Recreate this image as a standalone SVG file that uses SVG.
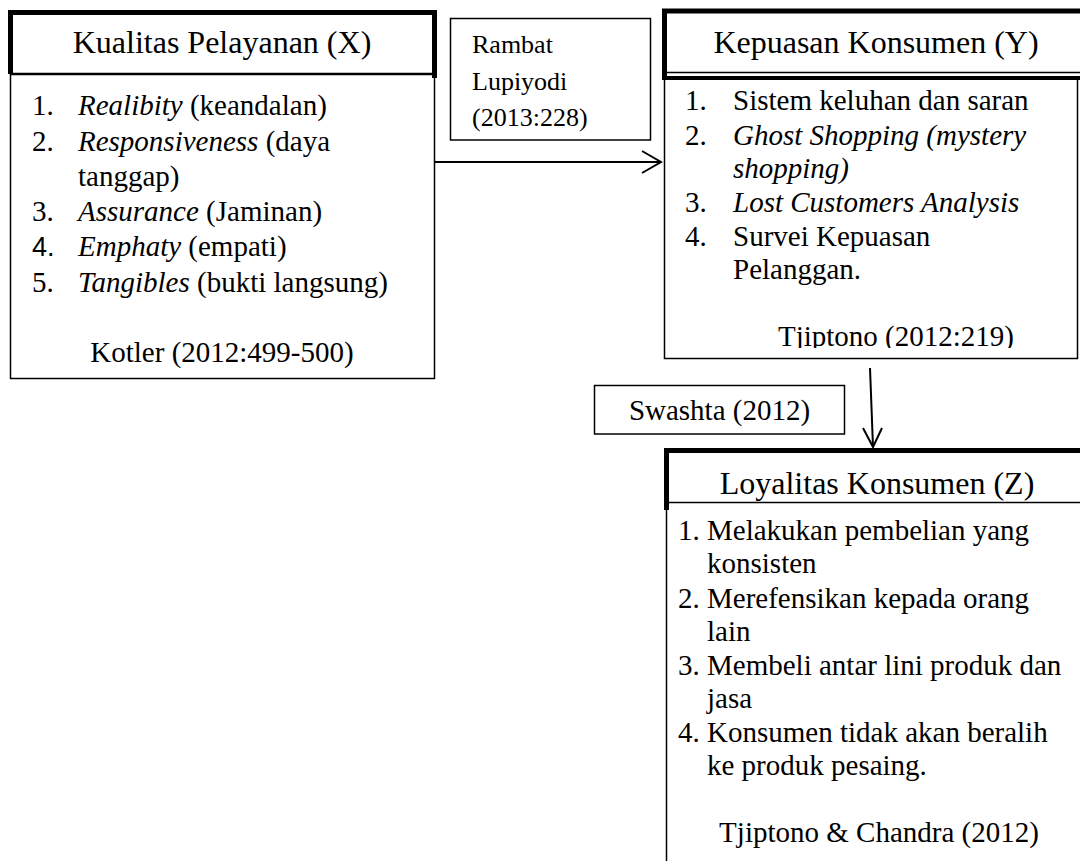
<svg xmlns="http://www.w3.org/2000/svg" width="1080" height="861" viewBox="0 0 1080 861">
<style>
text{font-family:"Liberation Serif","Times New Roman",serif;fill:#000}
.h{font-size:32px;text-anchor:middle}
.b{font-size:29px}
.s{font-size:26px}
.c{text-anchor:middle}
.i{font-style:italic}
.thick{stroke:#000;stroke-width:5;fill:none}
.thin{stroke:#000;stroke-width:1.5;fill:none}
.conn{stroke:#000;stroke-width:2;fill:none}
</style>
<defs>
<clipPath id="clipY"><rect x="664" y="80" width="416" height="268"/></clipPath>
</defs>
<rect width="1080" height="861" fill="#fff"/>

<g id="nodeX">
<path class="thick" d="M10.5 74 V12.5 H434.5 V78"/>
<line class="thin" x1="10" y1="73.5" x2="435" y2="73.5"/>
<rect class="thin" x="10.5" y="74.5" width="424" height="304"/>
<text class="h" x="222" y="53">Kualitas Pelayanan (X)</text>
<g class="b">
<text x="32" y="115">1.</text><text x="78" y="115"><tspan class="i">Realibity</tspan> (keandalan)</text>
<text x="32" y="151">2.</text><text x="78" y="151"><tspan class="i">Responsiveness</tspan> (daya</text>
<text x="78" y="186">tanggap)</text>
<text x="32" y="221">3.</text><text x="78" y="221"><tspan class="i">Assurance</tspan> (Jaminan)</text>
<text x="32" y="256" style="font-family:'Liberation Sans',Arial,sans-serif;font-size:27px">4.</text><text x="78" y="256"><tspan class="i">Emphaty</tspan> (empati)</text>
<text x="32" y="292">5.</text><text x="78" y="292"><tspan class="i">Tangibles</tspan> (bukti langsung)</text>
<text class="c" x="222" y="362">Kotler (2012:499-500)</text>
</g>
</g>

<g id="labelRambat">
<rect class="thin" x="450.5" y="18.5" width="200" height="121.5"/>
<text class="s" x="472" y="53">Rambat</text>
<text class="s" x="472" y="90">Lupiyodi</text>
<text class="s" x="472" y="126">(2013:228)</text>
</g>

<g id="nodeY">
<path class="thick" d="M664.5 80 V11 H1082"/>
<line class="thin" x1="667" y1="72.5" x2="1080" y2="72.5"/>
<line stroke="#000" stroke-width="4" x1="662" y1="78" x2="1080" y2="78"/>
<path class="thin" d="M664.5 80 V358.5 H1077.5 V80"/>
<text class="h" x="876" y="53">Kepuasan Konsumen (Y)</text>
<g class="b">
<text x="685" y="110">1.</text><text x="733" y="110">Sistem keluhan dan saran</text>
<text x="685" y="145">2.</text><text x="733" y="145" class="i">Ghost Shopping (mystery</text>
<text x="733" y="178" class="i">shopping)</text>
<text x="685" y="212">3.</text><text x="733" y="212" class="i">Lost Customers Analysis</text>
<text x="685" y="246">4.</text><text x="733" y="246">Survei Kepuasan</text>
<text x="733" y="279">Pelanggan.</text>
<text class="c" x="896" y="346" clip-path="url(#clipY)">Tjiptono (2012:219)</text>
</g>
</g>

<g id="labelSwashta">
<rect class="thin" x="594.5" y="385.5" width="250" height="48.5"/>
<text class="b c" x="719.5" y="420">Swashta (2012)</text>
</g>

<g id="nodeZ">
<path class="thick" d="M666.5 510 V450.5 H1082"/>
<line class="thin" x1="669" y1="502.5" x2="1080" y2="502.5"/>
<line class="thin" x1="666.5" y1="503" x2="666.5" y2="862"/>
<text class="h" x="877" y="494">Loyalitas Konsumen (Z)</text>
<g class="b">
<text x="678" y="540">1. Melakukan pembelian yang</text>
<text x="707" y="573">konsisten</text>
<text x="678" y="608">2. Merefensikan kepada orang</text>
<text x="707" y="641">lain</text>
<text x="678" y="675">3. Membeli antar lini produk dan</text>
<text x="707" y="708">jasa</text>
<text x="678" y="742">4. Konsumen tidak akan beralih</text>
<text x="707" y="775">ke produk pesaing.</text>
<text class="c" x="879" y="842">Tjiptono &amp; Chandra (2012)</text>
</g>
</g>

<g id="connectors">
<line class="conn" x1="434" y1="162" x2="660" y2="162"/>
<polyline class="conn" points="642,151 661,162 642,173"/>
<line class="conn" x1="870" y1="368" x2="873" y2="447"/>
<polyline class="conn" points="863,428 873,447 882,428"/>
</g>
</svg>
